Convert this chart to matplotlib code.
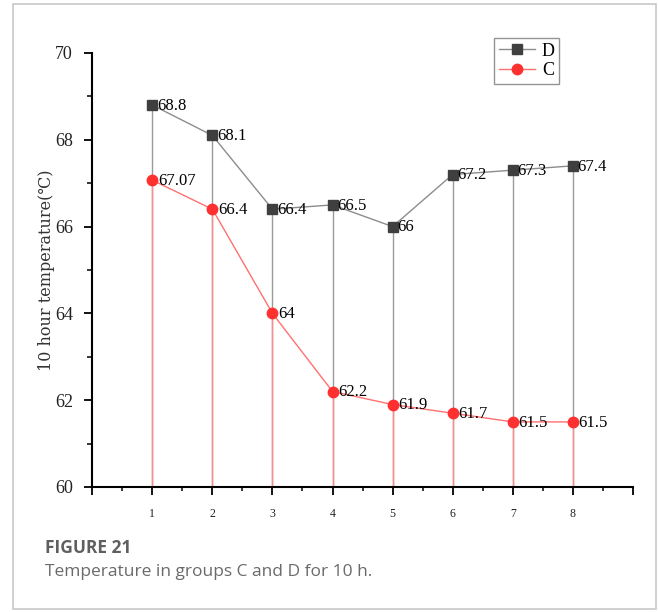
import matplotlib.pyplot as plt
from matplotlib.patches import Rectangle
from matplotlib.ticker import MultipleLocator, FixedLocator

# measurement points and 10 h temperatures of the two groups
points = [1, 2, 3, 4, 5, 6, 7, 8]
temp_d = [68.8, 68.1, 66.4, 66.5, 66.0, 67.2, 67.3, 67.4]
temp_c = [67.07, 66.4, 64.0, 62.2, 61.9, 61.7, 61.5, 61.5]
labels_d = ["68.8", "68.1", "66.4", "66.5", "66", "67.2", "67.3", "67.4"]
labels_c = ["67.07", "66.4", "64", "62.2", "61.9", "61.7", "61.5", "61.5"]
x_ticks = [0, 1, 2, 3, 4, 5, 6, 7, 8, 9]
x_ticklabels = ["", "1", "2", "3", "4", "5", "6", "7", "8", ""]

W, H = 658, 612
fig = plt.figure(figsize=(W / 100, H / 100), dpi=100)

# outer frame of the figure panel
fig.patches.append(Rectangle((13 / W, 1 - 609 / H), (656 - 13) / W, (609 - 4) / H,
                             transform=fig.transFigure, fill=False,
                             edgecolor="#c8c8c8", linewidth=1.2))

ax = fig.add_axes([92.3 / W, 1 - 487 / H, (632.8 - 92.3) / W, (487 - 53) / H])
ax.set_xlim(0, 9)
ax.set_ylim(60, 70)

serif = ["Liberation Serif", "DejaVu Serif"]

# drop lines from each point to the axis
ax.vlines(points, 60, temp_d, colors="#9a9a9a", linewidth=1.0, zorder=1)
ax.vlines(points, 60, temp_c, colors="#ff8a8a", linewidth=1.0, zorder=2)

ax.plot(points, temp_d, color="#8c8c8c", linewidth=1.0, marker="s", markersize=6.5,
        markerfacecolor="#3f3f3f", markeredgecolor="#3f3f3f", label="D",
        zorder=4, clip_on=False)
ax.plot(points, temp_c, color="#ff7070", linewidth=1.0, marker="o", markersize=7.5,
        markerfacecolor="#ff3030", markeredgecolor="#ff3030", label="C",
        zorder=5, clip_on=False)

for x, y, s in zip(points, temp_d, labels_d):
    ax.annotate(s, (x, y), xytext=(3.5, -0.5), textcoords="offset points",
                ha="left", va="center", fontsize=12, family=serif, zorder=6)
for x, y, s in zip(points, temp_c, labels_c):
    ax.annotate(s, (x, y), xytext=(4, -0.5), textcoords="offset points",
                ha="left", va="center", fontsize=12, family=serif, zorder=6)

for side in ("top", "right"):
    ax.spines[side].set_visible(False)
for side in ("left", "bottom"):
    ax.spines[side].set_linewidth(1.5)

ax.yaxis.set_major_locator(MultipleLocator(2))
ax.yaxis.set_minor_locator(MultipleLocator(1))
ax.xaxis.set_major_locator(FixedLocator(x_ticks))
ax.xaxis.set_minor_locator(MultipleLocator(0.5))
ax.set_xticklabels(x_ticklabels)

ax.tick_params(axis="y", which="major", direction="out", length=6, width=1.3,
               labelsize=13, pad=8)
ax.tick_params(axis="y", which="minor", direction="out", length=3.5, width=1.1)
ax.tick_params(axis="x", which="major", direction="out", length=6, width=1.3,
               labelsize=8.5, pad=9)
ax.tick_params(axis="x", which="minor", direction="out", length=3, width=1.1)
for t in ax.get_xticklabels() + ax.get_yticklabels():
    t.set_family(serif)
    t.set_color("#222222")

ax.set_ylabel("10 hour temperature(℃)", fontsize=11.5,
              family=["DejaVu Serif", "Noto Sans CJK SC"], color="#333333")
ax.yaxis.set_label_coords(-0.069, 0.5)

leg = ax.legend(loc="upper left", bbox_to_anchor=(494 / W, 1 - 38 / H),
                bbox_transform=fig.transFigure, prop={"family": serif, "size": 13},
                frameon=True, fancybox=False, handlelength=2.0, handletextpad=0.4,
                borderpad=0.25, labelspacing=0.15, borderaxespad=0)
leg.get_frame().set_edgecolor("#7a7a7a")
leg.get_frame().set_linewidth(1.0)

fig.text(45 / W, 1 - 553 / H, "FIGURE 21", fontsize=12.5, fontweight="bold",
         family="Open Sans", color="#5f5f5f", ha="left", va="baseline")
fig.text(45 / W, 1 - 576 / H, "Temperature in groups C and D for 10 h.", fontsize=12.5,
         family="Open Sans", color="#6a6a6a", ha="left", va="baseline")

fig.savefig("out.png", dpi=100)
